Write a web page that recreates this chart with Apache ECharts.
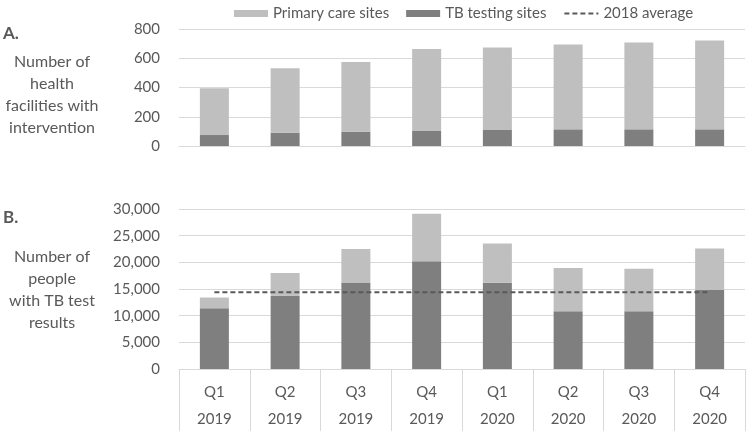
<!DOCTYPE html>
<html><head><meta charset="utf-8">
<script src="https://cdn.jsdelivr.net/npm/echarts@6/dist/echarts.min.js"></script>
<style>html,body{margin:0;padding:0;background:#fff}#c{width:750px;height:433px}</style>
</head><body><div id="c"></div>
<script>
const quarters = ['Q1','Q2','Q3','Q4','Q1','Q2','Q3','Q4'];
const years = ['2019','2019','2019','2019','2020','2020','2020','2020'];
const facilitiesTB = [75, 91, 98, 103, 110, 114, 114, 114];
const facilitiesPrimary = [320, 441, 477, 561, 563, 580, 594, 607];
const peopleTB = [11400, 13700, 16200, 20200, 16150, 10850, 10850, 14850];
const peoplePrimary = [2000, 4300, 6300, 8900, 7400, 8100, 7950, 7750];
const avg2018 = [14400, 14400, 14400, 14400, 14400, 14400, 14400, 14400];
const cats = quarters.map((q, i) => q + '|' + years[i]);

const FONT = 'Lato';
const TXT = '#595959';
const LIGHT = '#bfbfbf';
const DARK = '#7f7f7f';
const GRID = '#d9d9d9';

const chart = echarts.init(document.getElementById('c'));
chart.setOption({
  animation: false,
  textStyle: { fontFamily: FONT, color: TXT },
  legend: {
    top: 1, left: 229,
    itemGap: 17, itemWidth: 34, itemHeight: 7,
    textStyle: { fontFamily: FONT, color: TXT, fontSize: 15 },
    data: [
      { name: 'Primary care sites', icon: 'rect' },
      { name: 'TB testing sites', icon: 'rect' },
      { name: '2018 average', itemStyle: { opacity: 0 } }
    ]
  },
  grid: [
    { left: 179, right: 5, top: 29, height: 117 },
    { left: 179, right: 5, top: 209, height: 162 }
  ],
  xAxis: [
    { gridIndex: 0, type: 'category', data: cats,
      axisLine: { lineStyle: { color: GRID } }, axisTick: { show: false }, axisLabel: { show: false } },
    { gridIndex: 1, type: 'category', data: cats,
      axisLine: { lineStyle: { color: GRID } },
      axisTick: { show: true, length: 62, interval: 0, lineStyle: { color: GRID } },
      axisLabel: {
        interval: 0, margin: 10, fontSize: 15, color: TXT, lineHeight: 27, fontFamily: FONT,
        formatter: v => { const p = v.split('|'); return p[0] + '\n' + p[1]; }
      } }
  ],
  yAxis: [
    { gridIndex: 0, type: 'value', min: 0, max: 800, interval: 200,
      axisLine: { show: false }, axisTick: { show: false },
      axisLabel: { fontSize: 15, color: TXT, margin: 19, fontFamily: FONT },
      splitLine: { lineStyle: { color: GRID } } },
    { gridIndex: 1, type: 'value', min: 0, max: 30000, interval: 5000,
      axisLine: { show: false }, axisTick: { show: false },
      axisLabel: { fontSize: 15, color: TXT, margin: 19, fontFamily: FONT,
        formatter: v => v.toLocaleString('en-US') },
      splitLine: { lineStyle: { color: GRID } } }
  ],
  series: [
    { name: 'TB testing sites', type: 'bar', xAxisIndex: 0, yAxisIndex: 0, stack: 'a',
      data: facilitiesTB, barWidth: 29, itemStyle: { color: DARK } },
    { name: 'Primary care sites', type: 'bar', xAxisIndex: 0, yAxisIndex: 0, stack: 'a',
      data: facilitiesPrimary, barWidth: 29, itemStyle: { color: LIGHT } },
    { name: 'TB testing sites', type: 'bar', xAxisIndex: 1, yAxisIndex: 1, stack: 'b',
      data: peopleTB, barWidth: 29, itemStyle: { color: DARK } },
    { name: 'Primary care sites', type: 'bar', xAxisIndex: 1, yAxisIndex: 1, stack: 'b',
      data: peoplePrimary, barWidth: 29, itemStyle: { color: LIGHT } },
    { name: '2018 average', type: 'line', xAxisIndex: 1, yAxisIndex: 1,
      data: avg2018, symbol: 'none', z: 5,
      itemStyle: { color: TXT },
      lineStyle: { color: TXT, width: 2, type: [5, 3] } }
  ],
  graphic: [
    { type: 'text', left: 3, top: 25, style: { text: 'A.', font: 'bold 17px ' + FONT, fill: TXT } },
    { type: 'text', x: 52, y: 51, style: { text: 'Number of\nhealth\nfacilities with\nintervention',
      font: '16px ' + FONT, fill: TXT, align: 'center', lineHeight: 22 } },
    { type: 'text', left: 3, top: 209, style: { text: 'B.', font: 'bold 17px ' + FONT, fill: TXT } },
    { type: 'text', x: 52, y: 246, style: { text: 'Number of\npeople\nwith TB test\nresults',
      font: '16px ' + FONT, fill: TXT, align: 'center', lineHeight: 22 } }
  ]
});
</script></body></html>
